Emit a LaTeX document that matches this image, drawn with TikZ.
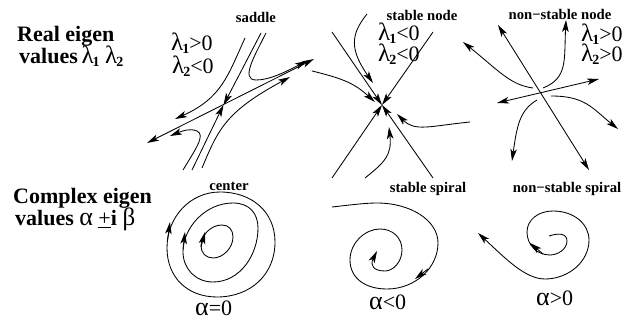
\documentclass[tikz,border=0pt]{standalone}
\usepackage{fontspec}
\setmainfont{Liberation Serif}
\usetikzlibrary{arrows.meta}
\newcommand{\fsz}[1]{\fontsize{#1}{#1}\selectfont}
\newcommand{\lam}[1]{{\fsz{25}λ}\kern-1pt\raisebox{-3pt}{\fsz{14}\bfseries #1}}
\tikzset{
  x=1pt,y=-1pt,
  curve/.style={line width=0.85pt,line join=round},
  arr/.style={curve,-{Stealth[length=12pt,width=6.5pt,inset=3pt]}},
  arrb/.style={curve,{Stealth[length=12pt,width=6.5pt,inset=3pt]}-{Stealth[length=12pt,width=6.5pt,inset=3pt]}},
  head/.style={inner sep=0pt,anchor=base,font=\fsz{14.7}\bfseries},
  big/.style={inner sep=0pt,anchor=base west,font=\fsz{22}\bfseries},
  cond/.style={inner sep=0pt,anchor=base west,font=\fsz{22}},
}
\begin{document}
\begin{tikzpicture}
\useasboundingbox (0,0) rectangle (634,320);
% texts
\node[big] (t1) at (17,42) {Real eigen};
\node[big] (t2) at (19,64) {values\,\mdseries\lam{1} \lam{2}};
\node[big] (t3) at (13,204) {Complex eigen};
\node[big] (t4) at (15,226) {values \mdseries{\fsz{26}α} \underline{+}\textbf{i} {\fsz{25}β}};
\node[head] (h1) at (256,23) {saddle};
\node[head] (h2) at (422,21) {stable node};
\node[head] (h3) at (560,20) {non−stable node};
\node[head] (h4) at (229,191) {center};
\node[head] (h5) at (428,193) {stable spiral};
\node[head] (h6) at (567,193) {non−stable spiral};
\node[cond] (c1) at (171,51) {\lam{1}>0};
\node[cond] (c2) at (172,74) {\lam{2}<0};
\node[cond] (c3) at (378,41) {\lam{1}<0};
\node[cond] (c4) at (378,62) {\lam{2}<0};
\node[cond] (c5) at (581,42) {\lam{1}>0};
\node[cond] (c6) at (581,62) {\lam{2}>0};
\node[cond] (c7) at (195,315) {{\fsz{26}α}=0};
\node[cond] (c8) at (369,309) {{\fsz{26}α}<0};
\node[cond] (c9) at (536,305) {{\fsz{26}α}>0};
% saddle
\coordinate (sc) at (223.5,105);
\draw[arrb] (147,143) -- (314,59);
\draw[arr] (192,170) -- (sc);
\draw[arr] (261,33) -- (sc);
\draw[arr] (245,38) .. controls (228,75) and (222,98) .. (175,119);
\draw[arr] (266,33) .. controls (255,55) and (240,80) .. (256,80) .. controls (270,80) and (285,72) .. (307,61);
\draw[arr] (202,168) .. controls (218,130) and (225,112) .. (290,77);
\draw[arr] (183,170) .. controls (195,150) and (206,135) .. (197,131) .. controls (190,128) and (182,131) .. (170,136);
% stable node
\coordinate (nc) at (382,105);
\draw[arr] (433,32) -- (nc);
\draw[arr] (332,32) -- (nc);
\draw[arr] (332,178) -- (nc);
\draw[arr] (433,178) -- (nc);
\draw[arr] (367,14) .. controls (350,35) and (350,50) .. (373,83);
\draw[arr] (312,71) .. controls (345,79) and (355,84) .. (375,102);
\draw[arr] (470,122) .. controls (430,126) and (415,132) .. (397,114);
\draw[arr] (365,178) .. controls (385,162) and (392,155) .. (389,127);
% non-stable node
\draw[arrb] (498,25) -- (589,170);
\draw[arrb] (497,103) -- (599,79);
\draw[arr] (533,88) .. controls (510,85) and (498,70) .. (463,42);
\draw[arr] (543,88) .. controls (568,78) and (564,60) .. (566,20);
\draw[arr] (551,96) .. controls (585,96) and (592,108) .. (618,129);
\draw[arr] (537,100) .. controls (520,110) and (517,125) .. (512,161);
% center
\draw[curve] (220,192) .. controls (252,192) and (275,212) .. (275,242) .. controls (275,275) and (250,297) .. (217,297) .. controls (187,297) and (167,277) .. (167,248) .. controls (167,217) and (190,192) .. (220,192) -- cycle;
\draw[arr] (167.5,240) -- (170,222);
\draw[curve] (233,203) .. controls (250,203) and (258,214) .. (258,228) .. controls (258,255) and (240,282) .. (213,282) .. controls (195,282) and (183,268) .. (183,252) .. controls (183,228) and (205,203) .. (233,203) -- cycle;
\draw[arr] (183,249) -- (185,232);
\draw[curve] (222,225) .. controls (229,225) and (233,230) .. (233,237) .. controls (233,248) and (223,258) .. (213,258) .. controls (206,258) and (201,253) .. (201,246) .. controls (201,235) and (211,225) .. (222,225) -- cycle;
\draw[arr] (201,247) -- (205,232);
% stable spiral
\draw[arr] (332,207) .. controls (350,205) and (365,203) .. (377,203) .. controls (410,203) and (438,220) .. (438,243) .. controls (438,268) and (415,289) .. (387,289) .. controls (365,289) and (350,278) .. (350,260) .. controls (350,243) and (365,229) .. (380,229) .. controls (393,229) and (402,238) .. (402,250) .. controls (402,262) and (393,271) .. (385,271) .. controls (373,271) and (370,265) .. (377,251);
\draw[arr] (428,269) -- (415,279);
% non-stable spiral
\draw[arr] (549,236) .. controls (558,233) and (567,233) .. (567,241) .. controls (567,249) and (558,255) .. (550,255) .. controls (537,255) and (527,245) .. (527,232) .. controls (527,220) and (538,211) .. (553,211) .. controls (574,211) and (589,224) .. (589,240) .. controls (589,262) and (568,279) .. (545,279) .. controls (525,279) and (505,258) .. (478,233);
\draw[arr] (543,254) -- (530,243);
\end{tikzpicture}
\end{document}
